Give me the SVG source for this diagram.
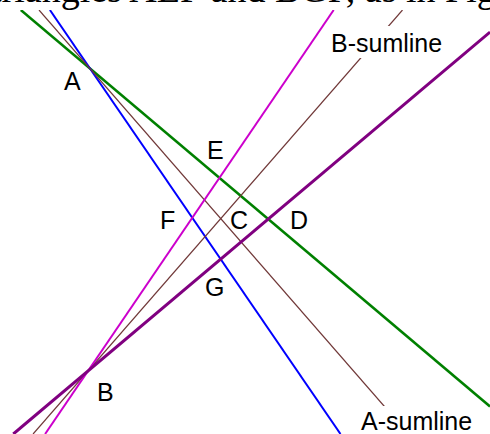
<svg xmlns="http://www.w3.org/2000/svg" width="490" height="434" viewBox="0 0 490 434">
  <style>
    .ln { fill: none; stroke-linecap: butt; }
    .green { stroke: #008000; stroke-width: 2.5; }
    .blue { stroke: #0000ff; stroke-width: 2; }
    .brown { stroke: #703838; stroke-width: 1.2; }
    .magenta { stroke: #cc00cc; stroke-width: 2; }
    .purple { stroke: #800080; stroke-width: 3; }
    .lbl { font-family: "Liberation Sans", Arial, sans-serif; font-size: 25px; fill: #000; }
    .cap { font-family: "Liberation Serif", "Times New Roman", serif; font-size: 38px; fill: #000; }
    .bg { fill: #fff; }
  </style>
  <defs>
    <clipPath id="area"><rect x="0" y="10" width="490" height="424"/></clipPath>
  </defs>
  <rect width="490" height="434" fill="#fff"/>
  <text class="cap" x="-9" y="2">triangles AEF and BGF, as in Figure</text>
  <g id="connectors" clip-path="url(#area)">
    <line class="ln green" x1="20.8" y1="10" x2="490" y2="406.5"/>
    <line class="ln blue" x1="49.9" y1="10" x2="340.5" y2="434"/>
    <line class="ln brown" x1="39" y1="10" x2="408.4" y2="434"/>
    <line class="ln brown" x1="402.5" y1="10" x2="33.1" y2="434"/>
    <line class="ln magenta" x1="333.7" y1="10" x2="45.1" y2="434"/>
    <line class="ln purple" x1="490" y1="32.1" x2="13.3" y2="434"/>
  </g>
  <g id="label-B-sumline">
    <rect class="bg" x="328" y="26" width="122" height="32"/>
    <text class="lbl" x="331" y="52">B-sumline</text>
  </g>
  <g id="label-A-sumline">
    <rect class="bg" x="355" y="406" width="125" height="28"/>
    <text class="lbl" x="361" y="430">A-sumline</text>
  </g>
  <g id="node-A"><text class="lbl" x="64" y="90">A</text></g>
  <g id="node-B"><text class="lbl" x="97" y="401">B</text></g>
  <g id="node-C"><text class="lbl" x="230" y="229">C</text></g>
  <g id="node-D"><text class="lbl" x="290" y="229">D</text></g>
  <g id="node-E"><text class="lbl" x="207" y="159">E</text></g>
  <g id="node-F"><text class="lbl" x="160" y="229">F</text></g>
  <g id="node-G"><text class="lbl" x="205" y="296">G</text></g>
</svg>
